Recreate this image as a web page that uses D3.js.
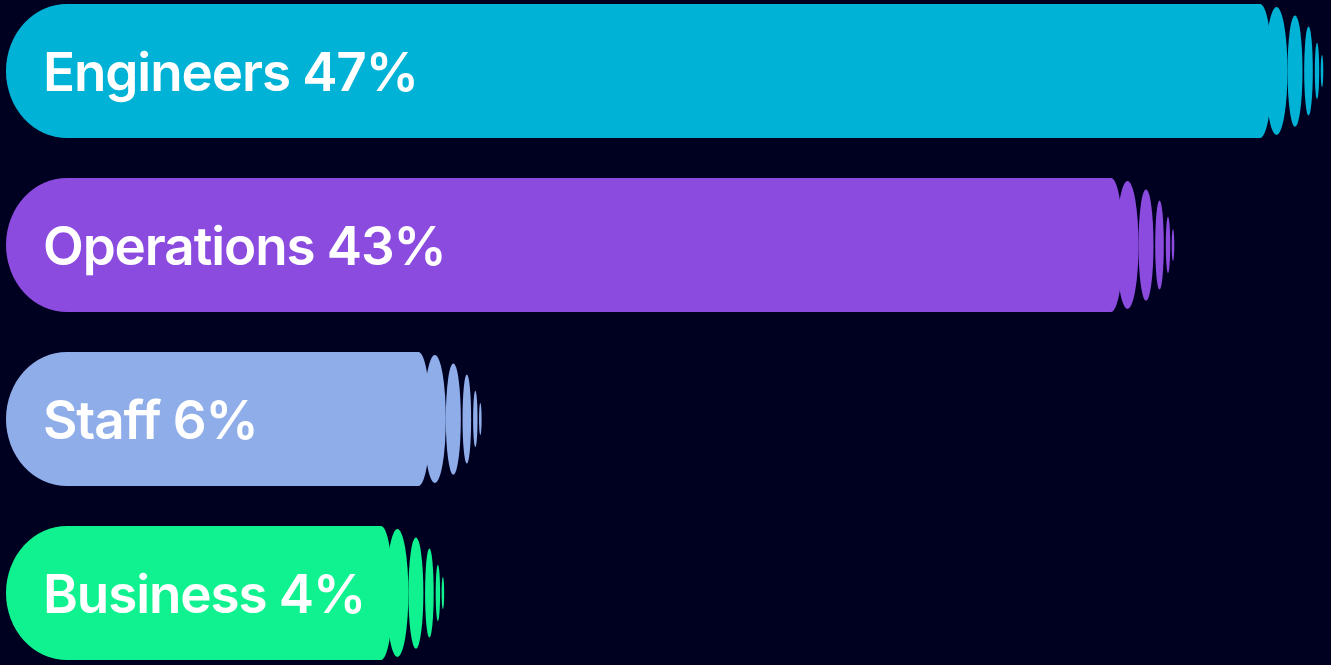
<!DOCTYPE html>
<html>
<head>
<meta charset="utf-8">
<script src="https://cdn.jsdelivr.net/npm/d3@7"></script>
<style>
	html, body { margin: 0; padding: 0; background: #000020; }
	svg { display: block; }
	.label { font-family: Inter, "Noto Sans", sans-serif; font-weight: 600; fill: #ffffff; letter-spacing: -1.1px; }
</style>
</head>
<body>
<svg id="chart" width="1331" height="665"></svg>
<script>
'use strict';

var categories = ['Engineers', 'Operations', 'Staff', 'Business'];
var shares = [47, 43, 6, 4];
var colors = ['#00B3D6', '#8B4BDF', '#8FADE9', '#10F28F'];

// echo ellipses after the bar end: offset from end, x radius, y radius (share of half height)
var echoes = [
	{ dx: 0, rx: 12, ry: 1.0 },
	{ dx: 16.5, rx: 11, ry: 0.955 },
	{ dx: 35, rx: 7.5, ry: 0.83 },
	{ dx: 48.5, rx: 4.3, ry: 0.665 },
	{ dx: 57, rx: 2.2, ry: 0.42 },
	{ dx: 62, rx: 1.3, ry: 0.24 }
];

var data = categories.map(function (c, i) {
	return { name: c, value: shares[i], color: colors[i] };
});

var svg = d3.select('#chart'),
	left = 6,
	capRx = 61;

var y = d3.scaleBand()
	.domain(categories)
	.range([4, 660])
	.paddingInner(40 / 174);

// bars are stretched, not proportional, so the scale bends at the second bar
var x = d3.scaleLinear()
	.domain([0, 43, 47])
	.range([306, 1111, 1260]);

var h = y.bandwidth();

var bar = svg.append('g')
	.selectAll('g')
	.data(data)
	.enter().append('g')
		.attr('transform', function (d) { return 'translate(0,' + y(d.name) + ')'; });

bar.append('path')
	.attr('d', function (d) {
		var end = x(d.value);
		return 'M' + (left + capRx) + ',0H' + end + 'V' + h + 'H' + (left + capRx) +
			'A' + capRx + ',' + (h / 2) + ' 0 0 1 ' + (left + capRx) + ',0Z';
	})
	.style('fill', function (d) { return d.color; });

bar.selectAll('ellipse')
	.data(function (d) {
		return echoes.map(function (e) { return { e: e, d: d }; });
	})
	.enter().append('ellipse')
		.attr('cx', function (o) { return x(o.d.value) + o.e.dx; })
		.attr('cy', h / 2)
		.attr('rx', function (o) { return o.e.rx; })
		.attr('ry', function (o) { return o.e.ry * h / 2; })
		.style('fill', function (o) { return o.d.color; });

bar.append('text')
	.attr('class', 'label')
	.attr('x', 43)
	.attr('y', h / 2 + 19.5)
	.style('font-size', '53px')
	.text(function (d) { return d.name + ' ' + d.value + '%'; });
</script>
</body>
</html>
